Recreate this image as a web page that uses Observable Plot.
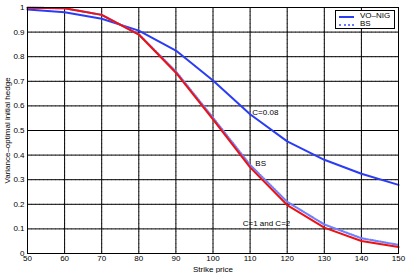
<!DOCTYPE html>
<html><head><meta charset="utf-8">
<script src="https://cdn.jsdelivr.net/npm/d3@7"></script>
<script src="https://cdn.jsdelivr.net/npm/@observablehq/plot@0.6"></script>
<style>
html,body{margin:0;padding:0;background:#fff;}
#wrap{position:relative;width:409px;height:273px;font-family:"Liberation Sans",Arial,sans-serif;}
#legend{position:absolute;left:335px;top:10px;width:58px;height:17px;border:1px solid #000;background:#fff;font-size:8px;line-height:8px;}
#legend .row{position:absolute;left:3px;height:8px;}
#legend .sw{position:absolute;left:0;top:4px;width:15px;height:0;}
#legend .lab{position:absolute;left:21px;top:0;white-space:nowrap;}
</style></head>
<body><div id="wrap"></div>
<script>
const strikes = [50, 60, 70, 80, 90, 100, 110, 120, 130, 140, 150];
const voNig  = [0.992, 0.981, 0.954, 0.906, 0.825, 0.703, 0.566, 0.456, 0.381, 0.324, 0.279];
const voC12  = [0.999, 0.997, 0.970, 0.890, 0.735, 0.545, 0.350, 0.197, 0.105, 0.051, 0.026];
const bsHedge= [0.999, 0.997, 0.970, 0.891, 0.740, 0.552, 0.360, 0.210, 0.118, 0.062, 0.035];
const xTicks = [50, 60, 70, 80, 90, 100, 110, 120, 130, 140, 150];
const yTicks = [0, 0.1, 0.2, 0.3, 0.4, 0.5, 0.6, 0.7, 0.8, 0.9, 1];
const notes = [
  {x: 110.6, y: 0.572, text: "C=0.08"},
  {x: 111.4, y: 0.368, text: "BS"},
  {x: 108.0, y: 0.124, text: "C=1 and C=2"}
];
const legendItems = [
  {label: "VO\u2013NIG", color: "#2b3cf5", dash: "solid"},
  {label: "BS", color: "#6a78ff", dash: "dotted"}
];

const mk = arr => strikes.map((s, i) => ({x: s, y: arr[i]}));
const BLUE = "#2b3cf5", RED = "#ee1111", DOT = "#7080ff";

const chart = Plot.plot({
  width: 409, height: 273,
  marginLeft: 27, marginRight: 11, marginTop: 7, marginBottom: 20,
  style: {fontFamily: "Liberation Sans, Arial, sans-serif", fontSize: "8px", background: "#fff"},
  x: {domain: [50, 150], ticks: xTicks, tickSize: 0, tickPadding: 2, label: "Strike price", labelAnchor: "center", labelArrow: "none", labelOffset: 18},
  y: {domain: [0, 1], ticks: yTicks, tickSize: 0, tickPadding: 3, tickFormat: d => d === 0 ? "0" : d === 1 ? "1" : d3.format(".1f")(d), label: "Variance\u2013optimal initial hedge", labelAnchor: "center", labelArrow: "none", labelOffset: 23},
  marks: [
    Plot.gridX(xTicks, {stroke: "#888", strokeOpacity: 0.9, strokeDasharray: "1,3"}),
    Plot.gridY(yTicks, {stroke: "#888", strokeOpacity: 0.9, strokeDasharray: "1,3"}),
    Plot.tickX(xTicks, {x: d => d, y1: 0, y2: 0.012, stroke: "#000"}),
    Plot.tickY(yTicks, {y: d => d, x1: 50, x2: 51.2, stroke: "#000"}),
    Plot.line(mk(voNig), {x: "x", y: "y", stroke: BLUE, strokeWidth: 2}),
    Plot.line(mk(bsHedge), {x: "x", y: "y", stroke: DOT, strokeWidth: 2.2, strokeDasharray: "1,1.5"}),
    Plot.line(mk(voC12), {x: "x", y: "y", stroke: RED, strokeWidth: 2}),
    Plot.text(notes, {x: "x", y: "y", text: "text", textAnchor: "start", fill: "#000", fontSize: 8}),
    Plot.frame({stroke: "#000", strokeWidth: 1})
  ]
});
const wrap = document.getElementById("wrap");
wrap.appendChild(chart);

const leg = document.createElement("div");
leg.id = "legend";
legendItems.forEach((it, i) => {
  const row = document.createElement("div");
  row.className = "row";
  row.style.top = (1 + i * 7.5) + "px";
  const sw = document.createElement("div");
  sw.className = "sw";
  sw.style.borderTop = (it.dash === "solid" ? "2px solid " : "2px dotted ") + it.color;
  const lab = document.createElement("div");
  lab.className = "lab";
  lab.textContent = it.label;
  row.appendChild(sw); row.appendChild(lab);
  leg.appendChild(row);
});
wrap.appendChild(leg);
</script></body></html>
